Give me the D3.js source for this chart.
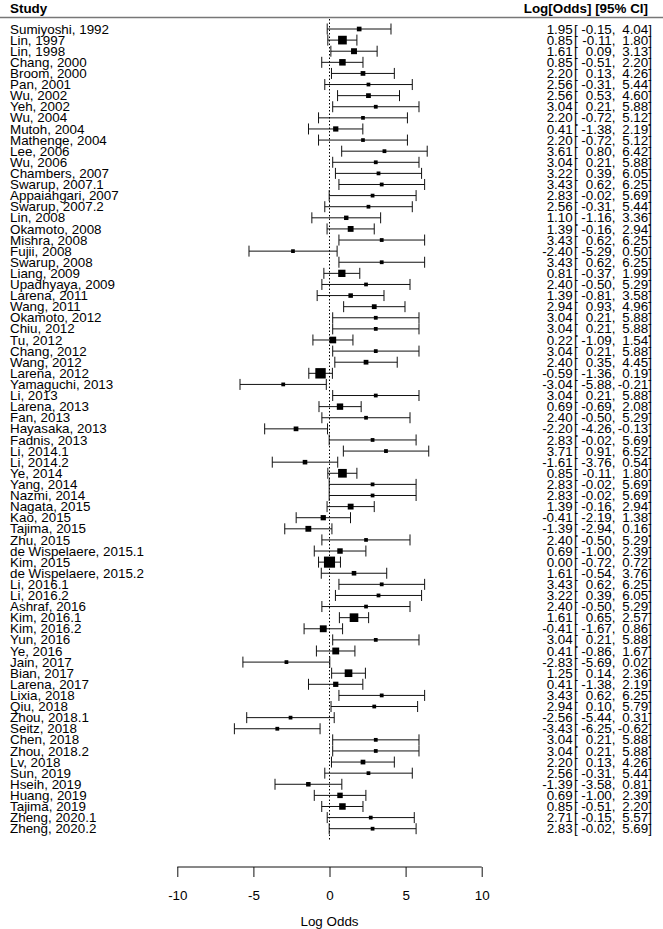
<!DOCTYPE html>
<html><head><meta charset="utf-8">
<script src="https://cdn.jsdelivr.net/npm/d3@7"></script>
<style>
html,body{margin:0;padding:0;background:#fff;}
svg{display:block;font-family:"Liberation Sans",Arial,sans-serif;}
</style></head>
<body>
<svg id="c" width="663" height="929"></svg>
<script>
const studies = ["Sumiyoshi, 1992","Lin, 1997","Lin, 1998","Chang, 2000","Broom, 2000","Pan, 2001","Wu, 2002","Yeh, 2002","Wu, 2004","Mutoh, 2004","Mathenge, 2004","Lee, 2006","Wu, 2006","Chambers, 2007","Swarup, 2007.1","Appaiahgari, 2007","Swarup, 2007.2","Lin, 2008","Okamoto, 2008","Mishra, 2008","Fujii, 2008","Swarup, 2008","Liang, 2009","Upadhyaya, 2009","Larena, 2011","Wang, 2011","Okamoto, 2012","Chiu, 2012","Tu, 2012","Chang, 2012","Wang, 2012","Larena, 2012","Yamaguchi, 2013","Li, 2013","Larena, 2013","Fan, 2013","Hayasaka, 2013","Fadnis, 2013","Li, 2014.1","Li, 2014.2","Ye, 2014","Yang, 2014","Nazmi, 2014","Nagata, 2015","Kao, 2015","Tajima, 2015","Zhu, 2015","de Wispelaere, 2015.1","Kim, 2015","de Wispelaere, 2015.2","Li, 2016.1","Li, 2016.2","Ashraf, 2016","Kim, 2016.1","Kim, 2016.2","Yun, 2016","Ye, 2016","Jain, 2017","Bian, 2017","Larena, 2017","Lixia, 2018","Qiu, 2018","Zhou, 2018.1","Seitz, 2018","Chen, 2018","Zhou, 2018.2","Lv, 2018","Sun, 2019","Hseih, 2019","Huang, 2019","Tajima, 2019","Zheng, 2020.1","Zheng, 2020.2"];
const estimates = [1.95,0.85,1.61,0.85,2.20,2.56,2.56,3.04,2.20,0.41,2.20,3.61,3.04,3.22,3.43,2.83,2.56,1.10,1.39,3.43,-2.40,3.43,0.81,2.40,1.39,2.94,3.04,3.04,0.22,3.04,2.40,-0.59,-3.04,3.04,0.69,2.40,-2.20,2.83,3.71,-1.61,0.85,2.83,2.83,1.39,-0.41,-1.39,2.40,0.69,0.00,1.61,3.43,3.22,2.40,1.61,-0.41,3.04,0.41,-2.83,1.25,0.41,3.43,2.94,-2.56,-3.43,3.04,3.04,2.20,2.56,-1.39,0.69,0.85,2.71,2.83];
const lowerCI = [-0.15,-0.11,0.09,-0.51,0.13,-0.31,0.53,0.21,-0.72,-1.38,-0.72,0.80,0.21,0.39,0.62,-0.02,-0.31,-1.16,-0.16,0.62,-5.29,0.62,-0.37,-0.50,-0.81,0.93,0.21,0.21,-1.09,0.21,0.35,-1.36,-5.88,0.21,-0.69,-0.50,-4.26,-0.02,0.91,-3.76,-0.11,-0.02,-0.02,-0.16,-2.19,-2.94,-0.50,-1.00,-0.72,-0.54,0.62,0.39,-0.50,0.65,-1.67,0.21,-0.86,-5.69,0.14,-1.38,0.62,0.10,-5.44,-6.25,0.21,0.21,0.13,-0.31,-3.58,-1.00,-0.51,-0.15,-0.02];
const upperCI = [4.04,1.80,3.13,2.20,4.26,5.44,4.60,5.88,5.12,2.19,5.12,6.42,5.88,6.05,6.25,5.69,5.44,3.36,2.94,6.25,0.50,6.25,1.99,5.29,3.58,4.96,5.88,5.88,1.54,5.88,4.45,0.19,-0.21,5.88,2.08,5.29,-0.13,5.69,6.52,0.54,1.80,5.69,5.69,2.94,1.38,0.16,5.29,2.39,0.72,3.76,6.25,6.05,5.29,2.57,0.86,5.88,1.67,0.02,2.36,2.19,6.25,5.79,0.31,-0.62,5.88,5.88,4.26,5.44,0.81,2.39,2.20,5.57,5.69];
const xTicks = [-10,-5,0,5,10];
const headerLeft = "Study";
const headerRight = "Log[Odds] [95% CI]";
const xLabel = "Log Odds";

const svg = d3.select("#c");
const FS = 13.4;
const x = d3.scaleLinear().domain([-10,10]).range([177.3,481.7]);
const y = d3.scaleLinear().domain([0, studies.length-1]).range([29, 828.7]);
const idx = d3.range(studies.length);

// point size from precision (as metafor does)
const prec = idx.map(i => 3.92/(upperCI[i]-lowerCI[i]));
const ps = d3.scaleLinear().domain(d3.extent(prec)).range([3.7, 11.1]);

// header
svg.append("text").attr("x",10).attr("y",13).attr("font-size",FS).attr("font-weight","bold").text(headerLeft);
svg.append("text").attr("x",648).attr("y",13).attr("font-size",FS).attr("font-weight","bold").attr("text-anchor","end").text(headerRight);
svg.append("line").attr("x1",0).attr("x2",663).attr("y1",17.5).attr("y2",17.5).attr("stroke","#777").attr("stroke-width",1.3);

// reference line
svg.append("line").attr("x1",x(0)).attr("x2",x(0)).attr("y1",19).attr("y2",840)
  .attr("stroke","#000").attr("stroke-width",1).attr("stroke-dasharray","1.5,2");

// rows
const g = svg.append("g");
const rows = g.selectAll("g.row").data(idx).join("g").attr("class","row");
rows.append("line").attr("x1",i=>x(lowerCI[i])).attr("x2",i=>x(upperCI[i]))
  .attr("y1",i=>y(i)).attr("y2",i=>y(i)).attr("stroke","#111").attr("stroke-width",1);
rows.append("line").attr("x1",i=>x(lowerCI[i])).attr("x2",i=>x(lowerCI[i]))
  .attr("y1",i=>y(i)-5.5).attr("y2",i=>y(i)+5.5).attr("stroke","#111").attr("stroke-width",1);
rows.append("line").attr("x1",i=>x(upperCI[i])).attr("x2",i=>x(upperCI[i]))
  .attr("y1",i=>y(i)-5.5).attr("y2",i=>y(i)+5.5).attr("stroke","#111").attr("stroke-width",1);
rows.append("rect").attr("x",i=>x(estimates[i])-ps(prec[i])/2).attr("y",i=>y(i)-ps(prec[i])/2)
  .attr("width",i=>ps(prec[i])).attr("height",i=>ps(prec[i])).attr("fill","#000");

const f = v => v.toFixed(2);
rows.append("text").attr("x",10).attr("y",i=>y(i)+4.6).attr("font-size",FS).text(i=>studies[i]);
rows.append("text").attr("x",572.7).attr("y",i=>y(i)+4.6).attr("font-size",FS).attr("text-anchor","end").text(i=>f(estimates[i]));
rows.append("text").attr("x",574).attr("y",i=>y(i)+4.6).attr("font-size",FS).text("[");
rows.append("text").attr("x",615.5).attr("y",i=>y(i)+4.6).attr("font-size",FS).attr("text-anchor","end").text(i=>f(lowerCI[i])+",");
rows.append("text").attr("x",652).attr("y",i=>y(i)+4.6).attr("font-size",FS).attr("text-anchor","end").text(i=>f(upperCI[i])+"]");

// axis
const ax = svg.append("g").attr("transform","translate(0,867)")
  .call(d3.axisBottom(x).tickValues(xTicks).tickSize(10).tickPadding(13).tickFormat(d => String(d)));
ax.select(".domain").attr("stroke","#111").attr("d",`M${x(-10)},0H${x(10)}`);
ax.selectAll(".tick line").attr("stroke","#111");
ax.selectAll("text").attr("font-size",FS).attr("font-family","Liberation Sans, Arial, sans-serif").attr("fill","#000");
svg.append("text").attr("x",x(0)).attr("y",926).attr("font-size",FS).attr("text-anchor","middle").text(xLabel);
</script>
</body></html>
